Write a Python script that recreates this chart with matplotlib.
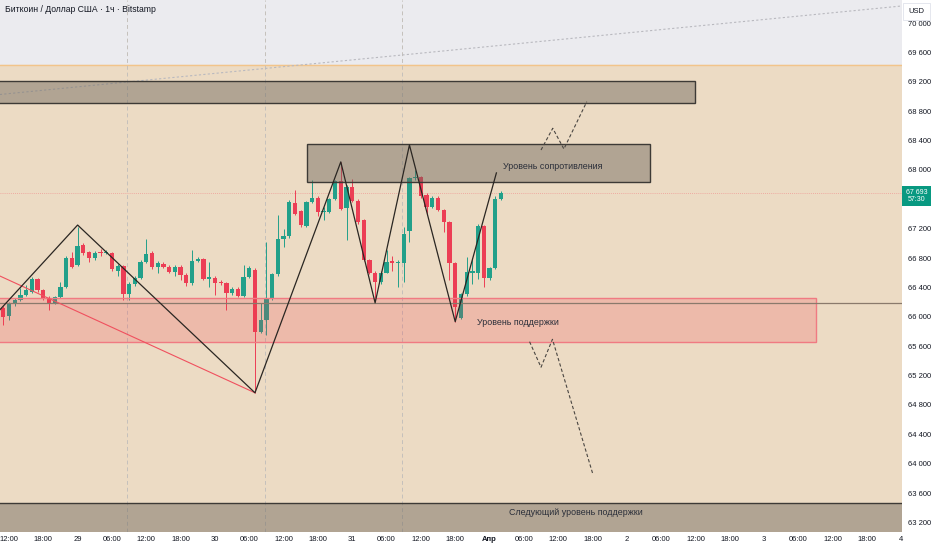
import matplotlib.pyplot as plt
from matplotlib.patches import Rectangle
from matplotlib import transforms

plt.rcParams['font.family'] = ['Liberation Sans', 'DejaVu Sans']

# hourly candles, x = hours since 28 Mar 00:00
hours = list(range(11, 99))
opens = [66120, 66010, 66175, 66230, 66300, 66340, 66515, 66365, 66255, 66190,
         66270, 66405, 66800, 66705, 66980, 66885, 66800, 66885, 66870, 66870,
         66625, 66690, 66310, 66445, 66530, 66750, 66870, 66680, 66720, 66680,
         66610, 66680, 66570, 66460, 66760, 66790, 66515, 66530, 66475, 66460,
         66325, 66380, 66285, 66545, 66640, 65795, 65960, 66245, 66585, 67060,
         67100, 67550, 67440, 67240, 67565, 67620, 67430, 67430, 67605, 67850,
         67480, 67770, 67580, 67320, 66775, 66600, 66475, 66600, 66760, 66730,
         66730, 67170, 67890, 67905, 67660, 67495, 67620, 67455, 67290, 66730,
         65990, 66310, 66600, 66600, 67240, 66530, 66665, 67605]
highs = [66150, 66200, 66260, 66390, 66430, 66540, 66530, 66380, 66280, 66290,
         66470, 66830, 66880, 67225, 67000, 66900, 66900, 66930, 66910, 66880,
         66720, 66700, 66480, 66560, 66770, 67060, 66890, 66760, 66740, 66700,
         66700, 66700, 66590, 66910, 66820, 66800, 66750, 66560, 66500, 66470,
         66400, 66400, 66710, 66690, 66660, 66190, 67020, 66600, 67380, 67200,
         67590, 67730, 67460, 67580, 67865, 67640, 67500, 67620, 67870, 68110,
         67800, 67880, 67600, 67330, 66790, 66620, 66620, 66910, 66830, 66780,
         67230, 67910, 68000, 67920, 67680, 67640, 67640, 67470, 67310, 66740,
         66330, 66820, 66800, 67260, 67250, 66680, 67650, 67720]
lows = [65890, 65960, 66150, 66210, 66280, 66320, 66340, 66230, 66095, 66170,
        66250, 66390, 66660, 66690, 66840, 66740, 66780, 66830, 66850, 66630,
        66560, 66230, 66230, 66420, 66510, 66730, 66650, 66600, 66660, 66590,
        66560, 66500, 66420, 66440, 66740, 66500, 66410, 66300, 66440, 66095,
        66300, 66270, 66270, 66530, 64965, 65780, 65750, 66230, 66550, 66950,
        67080, 67380, 67220, 67220, 67550, 67370, 67320, 67410, 67590, 67450,
        67046, 67560, 67270, 66760, 66580, 66230, 66450, 66590, 66620, 66400,
        66470, 67020, 67870, 67620, 67380, 67480, 67440, 67150, 66500, 65930,
        65970, 66280, 66450, 66520, 66400, 66500, 66650, 67590]
closes = [66000, 66175, 66230, 66300, 66365, 66515, 66365, 66255, 66190, 66270,
          66405, 66800, 66680, 66965, 66870, 66800, 66870, 66875, 66885, 66650,
          66690, 66310, 66445, 66530, 66750, 66860, 66680, 66730, 66680, 66610,
          66680, 66570, 66460, 66760, 66790, 66515, 66540, 66460, 66460, 66325,
          66380, 66285, 66545, 66665, 65795, 65960, 66245, 66585, 67060, 67100,
          67565, 67400, 67250, 67565, 67620, 67430, 67440, 67605, 67850, 67470,
          67770, 67580, 67290, 66775, 66600, 66475, 66600, 66750, 66730, 66740,
          67130, 67890, 67905, 67645, 67495, 67620, 67455, 67290, 66730, 66135,
          66310, 66610, 66620, 67240, 66530, 66665, 67605, 67693]

# drawings
zigzag_h = [10.4, 24, 55, 70, 76, 82, 90, 97.2]
zigzag_p = [66095, 67250, 64965, 68110, 66190, 68340, 65934, 67960]
red_line_h = [10.4, 55]
red_line_p = [66556, 64965]
up_proj_h = [105, 107.05, 109, 113]
up_proj_p = [68272, 68568, 68286, 68930]
down_proj_h = [103, 105, 107, 114.05]
down_proj_p = [65661, 65313, 65694, 63860]
top_trend_h = [10.4, 168.1]
top_trend_p = [69028, 70234]
session_lines = [32.7, 56.7, 80.7]
mid_level = 66190

top_zone = (0, 132, 68908, 69212)
resist_zone = (64.1, 124, 67840, 68350)
support_zone = (0, 153.1, 65657, 66257)
next_zone = (0, 175, 63040, 63465)
beige_top = 69423

xtick_pos = list(range(12, 169, 6))
xtick_labels = ['12:00', '18:00', '29', '06:00', '12:00', '18:00', '30', '06:00', '12:00',
                '18:00', '31', '06:00', '12:00', '18:00', 'Апр', '06:00', '12:00', '18:00',
                '2', '06:00', '12:00', '18:00', '3', '06:00', '12:00', '18:00', '4']
ytick_pos = list(range(63200, 70001, 400))
hidden_tick = 67600  # covered by the last-price badge

up_col = '#22a08a'
down_col = '#ec3e55'

fig = plt.figure(figsize=(9.32, 5.5), dpi=100)
ax = fig.add_axes([0, 18 / 550, 902 / 932, 532 / 550])
ax.set_facecolor('#ebebef')
ax.set_xlim(10.43, 168.1)
ax.set_ylim(63069, 70315)

# background zone
ax.axhspan(62000, beige_top, color='#ecdbc4', zorder=0)
ax.axhline(beige_top, color='#f2c48a', lw=1, zorder=1)

for h in session_lines:
    ax.axvline(h, color='#c4c0bb', lw=0.7, ls=(0, (4, 3)), zorder=1)

ax.plot(top_trend_h, top_trend_p, color='#b9b9bf', lw=0.8, ls=(0, (2, 2)), zorder=1)

# candles
for h, o, hi, lo, c in zip(hours, opens, highs, lows, closes):
    col = up_col if c >= o else down_col
    ax.vlines(h, lo, hi, color=col, lw=0.7, zorder=3)
    ax.bar(h, max(abs(c - o), 12), bottom=min(o, c), width=0.75, color=col, zorder=3)

ax.axhline(closes[-1], color='#f08a8a', lw=0.6, ls=(0, (1, 1.5)), alpha=0.8, zorder=2)

# zones
def zone(z, face, alpha, edge):
    x0, x1, y0, y1 = z
    ax.add_patch(Rectangle((x0, y0), x1 - x0, y1 - y0, facecolor=face, alpha=alpha,
                           edgecolor='none', zorder=4))
    ax.add_patch(Rectangle((x0, y0), x1 - x0, y1 - y0, facecolor='none',
                           edgecolor=edge, lw=1, zorder=4))

zone(top_zone, '#6b6358', 0.45, '#3d3a36')
zone(resist_zone, '#6b6358', 0.45, '#3d3a36')
zone(support_zone, '#f23645', 0.2, '#f07a82')
zone(next_zone, '#6b6358', 0.45, '#3d3a36')

ax.axhline(mid_level, color='#8a7a6c', lw=0.9, zorder=5)

ax.plot(red_line_h, red_line_p, color='#f0505e', lw=0.8, zorder=5)
ax.plot(zigzag_h, zigzag_p, color='#2a2622', lw=0.9, zorder=6)
ax.plot(up_proj_h, up_proj_p, color='#4a4642', lw=0.8, ls=(0, (3, 2)), zorder=6)
ax.plot(down_proj_h, down_proj_p, color='#4a4642', lw=0.8, ls=(0, (3, 2)), zorder=6)

ax.text(107, 68054, 'Уровень сопротивления', ha='center', va='center', fontsize=6.4, color='#2a2e39', zorder=7)
ax.text(101, 65916, 'Уровень поддержки', ha='center', va='center', fontsize=6.4, color='#2a2e39', zorder=7)
ax.text(111.1, 63328, 'Следующий уровень поддержки', ha='center', va='center', fontsize=6.4, color='#2a2e39', zorder=7)

# axes
for s in ax.spines.values():
    s.set_visible(False)
ax.yaxis.tick_right()
ax.set_yticks(ytick_pos)
ax.set_yticklabels(['' if v == hidden_tick else f'{v:,}'.replace(',', ' ') for v in ytick_pos])
ax.set_xticks(xtick_pos)
ax.set_xticklabels(xtick_labels)
ax.tick_params(axis='both', length=0, labelsize=5.5, colors='#131722')
ax.tick_params(axis='y', pad=4)
ax.tick_params(axis='x', pad=3)
for lab in ax.get_xticklabels():
    if lab.get_text() == 'Апр':
        lab.set_fontweight('bold')

fig.text(5 / 932, 1 - 10 / 550, 'Биткоин / Доллар США · 1ч · Bitstamp', ha='left', va='center',
         fontsize=6.2, color='#131722')

# current price label
tr = transforms.blended_transform_factory(fig.transFigure, ax.transData)
fig.patches.append(Rectangle((902 / 932, closes[-1] - 183), 29 / 932, 273, transform=tr,
                             facecolor='#089981', edgecolor='none', zorder=5))
fig.text(916.5 / 932, 1 - 196 / 550, '67 693\n57:30', ha='center', va='center', fontsize=5,
         color='white', linespacing=1.1, zorder=6)

# currency box
fig.patches.append(Rectangle((903 / 932, 1 - 20 / 550), 27 / 932, 17 / 550, transform=fig.transFigure,
                             facecolor='white', edgecolor='#e0e3eb', lw=0.6, zorder=5))
fig.text(916.5 / 932, 1 - 11.5 / 550, 'USD', ha='center', va='center', fontsize=5.5,
         color='#131722', zorder=6)

fig.savefig('out.png', dpi=100, facecolor='white')
